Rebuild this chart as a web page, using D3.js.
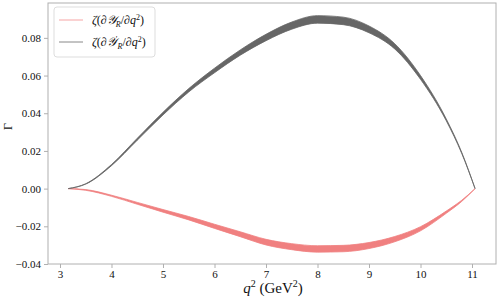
<!DOCTYPE html>
<html>
<head>
<meta charset="utf-8">
<script src="https://cdn.jsdelivr.net/npm/d3@7/dist/d3.min.js"></script>
<style>
  body { margin: 0; background: #fff; }
  svg text { font-family: "Liberation Serif", "DejaVu Serif", serif; }
</style>
</head>
<body>
<svg id="chart" width="498" height="300"></svg>
<script>
// q^2 sample points (GeV^2)
const q2 = [3.16, 3.5, 4.0, 4.5, 5.0, 5.5, 6.0, 6.5, 7.0, 7.5, 8.0, 8.5, 9.0, 9.5, 10.0, 10.5, 10.8, 11.06];

// zeta(dY_R/dq^2) band (red)
const redMid  = [0, -0.0007, -0.0038, -0.0078, -0.0118, -0.0157, -0.0200, -0.0242, -0.0284, -0.0308, -0.0320, -0.0318, -0.0302, -0.0268, -0.0213, -0.0125, -0.0065, 0];
const redHalf = [0, 0.0002, 0.0003, 0.0005, 0.0007, 0.0009, 0.0011, 0.0013, 0.0015, 0.0016, 0.0017, 0.0017, 0.0016, 0.0014, 0.0011, 0.0006, 0.0003, 0];

// zeta(dY'_R/dq^2) band (gray)
const grayMid  = [0, 0.0025, 0.0125, 0.0262, 0.0398, 0.0522, 0.0627, 0.0722, 0.0802, 0.0865, 0.0898, 0.0890, 0.0845, 0.0755, 0.0590, 0.0365, 0.0190, 0];
const grayHalf = [0, 0.0001, 0.0003, 0.0005, 0.0007, 0.0009, 0.0012, 0.0014, 0.0017, 0.0019, 0.0020, 0.0020, 0.0018, 0.0014, 0.0010, 0.0005, 0.0003, 0];

const xTicks = [3, 4, 5, 6, 7, 8, 9, 10, 11];
const yTicks = [-0.04, -0.02, 0.00, 0.02, 0.04, 0.06, 0.08];

const svg = d3.select('#chart');
const mLeft = 48, mRight = 496, mTop = 3, mBottom = 264;
const serif = '"Liberation Serif", "DejaVu Serif", serif';

const x = d3.scaleLinear().domain([2.767, 11.466]).range([mLeft, mRight]);
const y = d3.scaleLinear().domain([-0.04, 0.0985]).range([mBottom, mTop]);

const axisColor = '#b0b0b0';

// bands
function band(mid, half) {
  return q2.map((v, i) => ({ x: v, lo: mid[i] - half[i], hi: mid[i] + half[i] }));
}
const area = d3.area()
  .x(d => x(d.x))
  .y0(d => y(d.lo))
  .y1(d => y(d.hi))
  .curve(d3.curveMonotoneX);

svg.append('path')
  .datum(band(redMid, redHalf))
  .attr('d', area)
  .attr('fill', '#f08080')
  .attr('stroke', '#f08080')
  .attr('stroke-width', 0.8);

svg.append('path')
  .datum(band(grayMid, grayHalf))
  .attr('d', area)
  .attr('fill', '#666666')
  .attr('stroke', '#666666')
  .attr('stroke-width', 0.8);

// axes
const xAxis = svg.append('g')
  .attr('transform', `translate(0,${mBottom})`)
  .call(d3.axisBottom(x).tickValues(xTicks).tickSize(4).tickPadding(2).tickFormat(d3.format('d')));
const yAxis = svg.append('g')
  .attr('transform', `translate(${mLeft},0)`)
  .call(d3.axisLeft(y).tickValues(yTicks).tickSize(4).tickPadding(3).tickFormat(d => d3.format('.2f')(d).replace('-', '\u2212')));

[xAxis, yAxis].forEach(g => {
  g.attr('font-family', serif);
  g.select('.domain').remove();
  g.selectAll('line').attr('stroke', axisColor);
  g.selectAll('text').attr('fill', '#111').style('font-size', '11px');
});

// frame
svg.append('rect')
  .attr('x', mLeft).attr('y', mTop)
  .attr('width', mRight - mLeft).attr('height', mBottom - mTop)
  .attr('fill', 'none')
  .attr('stroke', axisColor)
  .attr('stroke-width', 1);

// axis labels
const xl = svg.append('text')
  .attr('x', (mLeft + mRight) / 2 + 1)
  .attr('y', 293)
  .attr('text-anchor', 'middle')
  .attr('fill', '#111')
  .style('font-size', '15px');
xl.append('tspan').attr('font-style', 'italic').text('q');
xl.append('tspan').attr('dy', -6).style('font-size', '10px').text('2');
xl.append('tspan').attr('dy', 6).text(' (GeV');
xl.append('tspan').attr('dy', -6).style('font-size', '10px').text('2');
xl.append('tspan').attr('dy', 6).text(')');

svg.append('text')
  .attr('transform', `translate(12,${(mTop + mBottom) / 2 - 7}) rotate(-90)`)
  .attr('text-anchor', 'middle')
  .attr('fill', '#111')
  .style('font-size', '12px')
  .text('\u0393');

// legend
const legend = svg.append('g');
legend.append('rect')
  .attr('x', 54).attr('y', 7)
  .attr('width', 101).attr('height', 50)
  .attr('rx', 3)
  .attr('fill', '#fff')
  .attr('fill-opacity', 0.8)
  .attr('stroke', '#dddddd');

const entries = [
  { color: '#f6a5a5', prime: false, yy: 20 },
  { color: '#888888', prime: true, yy: 42 }
];
entries.forEach(e => {
  legend.append('line')
    .attr('x1', 59).attr('x2', 83)
    .attr('y1', e.yy).attr('y2', e.yy)
    .attr('stroke', e.color)
    .attr('stroke-width', 1);
  const t = legend.append('text')
    .attr('x', 92).attr('y', e.yy + 4)
    .attr('fill', '#111')
    .style('font-size', '12px');
  t.append('tspan').attr('font-style', 'italic').text('\u03B6');
  t.append('tspan').text('(\u2202');
  t.append('tspan').attr('font-style', 'italic').text('\uD835\uDCB4');
  if (e.prime) t.append('tspan').attr('dy', -4).style('font-size', '8px').text('\u2032');
  t.append('tspan').attr('dy', e.prime ? 7 : 3).style('font-size', '8px').attr('font-style', 'italic').text('R');
  t.append('tspan').attr('dy', -3).text('/\u2202');
  t.append('tspan').attr('font-style', 'italic').text('q');
  t.append('tspan').attr('dy', -4).style('font-size', '8px').text('2');
  t.append('tspan').attr('dy', 4).text(')');
});
</script>
</body>
</html>
